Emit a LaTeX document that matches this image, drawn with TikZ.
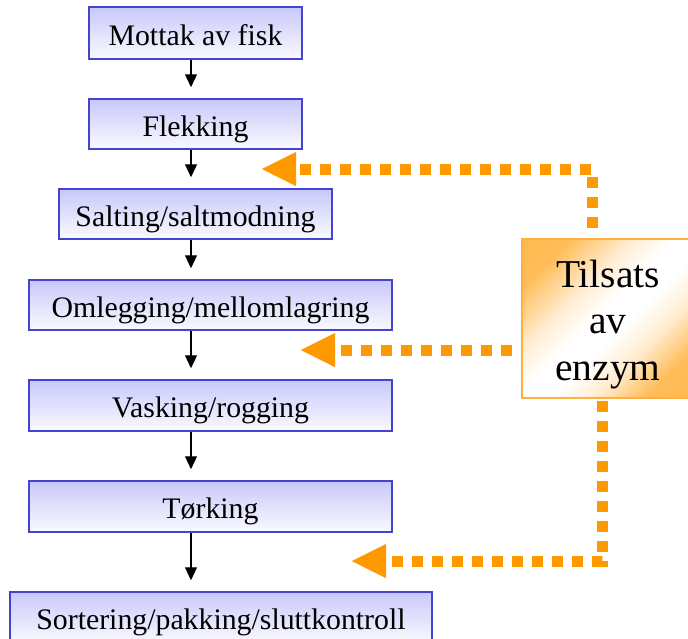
\documentclass[tikz,border=0pt]{standalone}
\usepackage{fontspec}
\setmainfont{Liberation Serif}
\usetikzlibrary{arrows.meta,calc}
\definecolor{boxblue}{RGB}{68,68,208}
\definecolor{boxtop}{RGB}{200,200,250}
\definecolor{boxbot}{RGB}{250,250,255}
\definecolor{orng}{RGB}{255,153,0}
\definecolor{orngedge}{RGB}{255,176,64}
\pgfdeclarehorizontalshading{tilsatsshade}{100bp}{color(0bp)=(orng!75); color(25bp)=(orng!65); color(38bp)=(orng!18); color(47bp)=(white); color(55bp)=(white); color(64bp)=(orng!18); color(75bp)=(orng!65); color(100bp)=(orng!75)}
\begin{document}
\begin{tikzpicture}[x=1pt,y=-1pt,
  stepbox/.style={draw=boxblue, line width=1.5pt, top color=boxtop, bottom color=boxbot,
    inner sep=0pt, font=\fontsize{29.8}{34}\selectfont, text height=28pt, text depth=4pt},
  flow/.style={line width=1.2pt, -{Triangle[length=13pt,width=12pt]}, shorten >=11pt},
  feed/.style={draw=orng, line width=11pt, dash pattern=on 11pt off 9pt,
    -{Triangle[length=34pt,width=34pt,line width=0.01pt,fill=orng,color=orng]}},
  tilsatsbox/.style={draw=orngedge, line width=1.5pt, shading=tilsatsshade, shading angle=-45,
    minimum width=172pt, minimum height=159pt, inner sep=0pt},
  tilsatstext/.style={align=center, font=\fontsize{39.5}{46.5}\selectfont, inner sep=0pt}]
\useasboundingbox (0,0) rectangle (688,638);
\clip (0,0) rectangle (688,638);
\fill[white] (0,0) rectangle (688,638);

\node[stepbox, minimum width=213pt, minimum height=52pt] (mottak) at (195.5,33) {Mottak av fisk};
\node[stepbox, minimum width=213pt, minimum height=50pt] (flekking) at (195.5,124) {Flekking};
\node[stepbox, minimum width=273pt, minimum height=50pt] (salting) at (195.5,214) {Salting/saltmodning};
\node[stepbox, minimum width=363pt, minimum height=50pt] (omlegging) at (210.5,305) {Omlegging/mellomlagring};
\node[stepbox, minimum width=363pt, minimum height=51pt] (vasking) at (210.5,405.5) {Vasking/rogging};
\node[stepbox, minimum width=363pt, minimum height=51pt] (torking) at (210.5,506.5) {Tørking};
\node[stepbox, minimum width=422pt, minimum height=51pt] (sortering) at (221,617.5) {Sortering/pakking/sluttkontroll};

\coordinate (ax) at (191,0);
\draw[flow] (mottak.south -| ax) -- (flekking.north -| ax);
\draw[flow] (flekking.south -| ax) -- (salting.north -| ax);
\draw[flow] (salting.south -| ax) -- (omlegging.north -| ax);
\draw[flow] (omlegging.south -| ax) -- (vasking.north -| ax);
\draw[flow] (vasking.south -| ax) -- (torking.north -| ax);
\draw[flow] (torking.south -| ax) -- (sortering.north -| ax);

\node[tilsatsbox] (tilsats) at (608,318.5) {};
\node[tilsatstext] (tilsatslabel) at (608,324.5) {Tilsats\\av\\enzym};

\coordinate (c1) at (592,169);
\coordinate (t1) at (262,169);
\coordinate (t2) at (301,350);
\coordinate (c3) at (602.5,561);
\coordinate (t3) at (352,561);
\draw[feed, shorten <=10pt] (tilsats.north -| c1) -- (c1) -- (t1);
\draw[feed, shorten <=9pt] (tilsats.west |- t2) -- (t2);
\draw[feed, shorten <=2pt] (tilsats.south -| c3) -- (c3) -- (t3);
\end{tikzpicture}
\end{document}
